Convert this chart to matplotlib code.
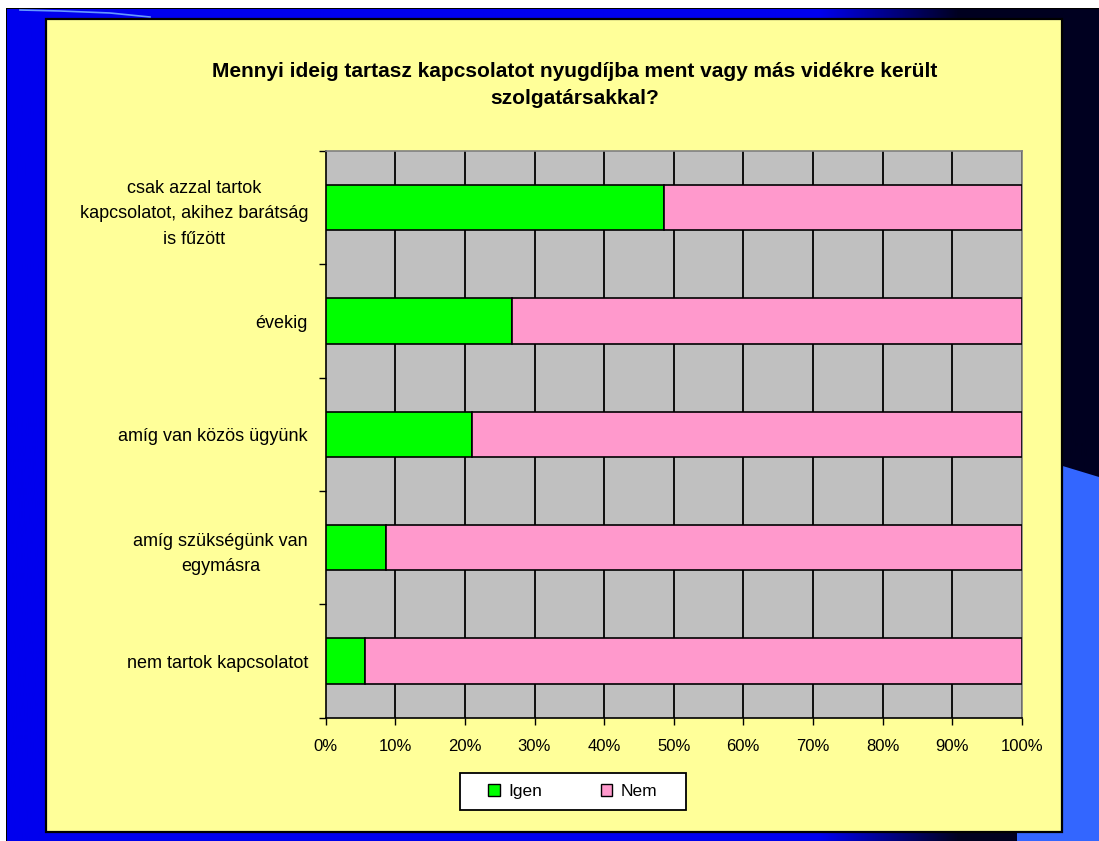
import matplotlib
matplotlib.use('Agg')
import matplotlib.pyplot as plt
from matplotlib.patches import Rectangle, Polygon
import numpy as np

# ---------------- data ----------------
categories = [
    "csak azzal tartok\nkapcsolatot, akihez barátság\nis fűzött",
    "évekig",
    "amíg van közös ügyünk",
    "amíg szükségünk van\negymásra",
    "nem tartok kapcsolatot",
]
igen = [48.6, 26.7, 21.0, 8.6, 5.7]
nem = [51.4, 73.3, 79.0, 91.4, 94.3]
series_names = ["Igen", "Nem"]
x_ticks = [0, 10, 20, 30, 40, 50, 60, 70, 80, 90, 100]
x_tick_labels = ["0%", "10%", "20%", "30%", "40%", "50%", "60%", "70%", "80%", "90%", "100%"]
title = "Mennyi ideig tartasz kapcsolatot nyugdíjba ment vagy más vidékre került\nszolgatársakkal?"

# ---------------- style ----------------
plt.rcParams['font.family'] = ['Liberation Sans', 'DejaVu Sans']
W, H = 1099, 841
GREEN = '#00FF00'
PINK = '#FF99CC'
GRAY = '#C0C0C0'
YELLOW = '#FFFF99'

fig = plt.figure(figsize=(W / 100, H / 100), dpi=100)
fig.patch.set_facecolor('white')

# background drawn in pixel coordinates
bg = fig.add_axes([0, 0, 1, 1], zorder=-10)
bg.set_xlim(0, W)
bg.set_ylim(H, 0)
bg.axis('off')

bg.add_patch(Rectangle((6, 8), W - 6, H - 8, facecolor='black', edgecolor='none'))
# horizontal gradient blue -> navy
xs = np.linspace(0, 1, 400)
xpix = 7 + xs * (W - 7)
t = np.clip((xpix - 820) / 140.0, 0, 1)
blue = np.array([0, 0, 238]) / 255.0
navy = np.array([0, 0, 32]) / 255.0
grad = (1 - t)[:, None] * blue + t[:, None] * navy
bg.imshow(grad[None, :, :], extent=(7, W, H, 9), aspect='auto', zorder=1)
# light blue shape at the lower right
bg.add_patch(Polygon([(1000, 447), (W, 477), (W, H), (1017, H), (1017, 460)],
                     closed=True, facecolor='#3366FF', edgecolor='none', zorder=2))
# small highlight swoosh at top left
bg.plot([20, 60, 110, 150], [10, 11, 13, 17], color='#6699FF', lw=1.2, zorder=2)
# yellow panel
bg.add_patch(Rectangle((46, 19), 1062 - 46, 832 - 19, facecolor=YELLOW,
                       edgecolor='black', lw=1.6, zorder=3))

# ---------------- main chart ----------------
left, right, top, bottom = 325.7, 1021.7, 151.0, 717.7
ax = fig.add_axes([left / W, 1 - bottom / H, (right - left) / W, (bottom - top) / H])
ax.set_facecolor(GRAY)

y = np.arange(len(categories))
ax.barh(y, igen, height=0.4, color=GREEN, edgecolor='black', lw=1.2, zorder=3, label=series_names[0])
ax.barh(y, nem, left=igen, height=0.4, color=PINK, edgecolor='black', lw=1.2, zorder=3, label=series_names[1])

ax.set_xlim(0, 100)
ax.set_ylim(len(categories) - 0.5, -0.5)

for v in x_ticks[1:]:
    ax.axvline(v, color='black', lw=1.3, zorder=1)

ax.set_xticks(x_ticks)
ax.set_xticklabels(x_tick_labels)
ax.tick_params(axis='x', direction='out', length=5, width=1, pad=10, labelsize=12)

ax.set_yticks(y)
ax.set_yticklabels(categories, multialignment='center', linespacing=1.65)
ax.tick_params(axis='y', which='major', length=0, pad=12.7, labelsize=13)
ax.set_yticks(np.arange(-0.5, len(categories), 1), minor=True)
ax.tick_params(axis='y', which='minor', direction='out', length=5, width=1)

for s in ['left', 'bottom']:
    ax.spines[s].set_color('black')
    ax.spines[s].set_linewidth(1.2)
for s in ['top', 'right']:
    ax.spines[s].set_color('#808080')
    ax.spines[s].set_linewidth(1.2)

# title
fig.text(575 / W, 1 - 85 / H, title, ha='center', va='center', fontweight='bold',
         fontsize=15, linespacing=1.55)

# legend box
bg.add_patch(Rectangle((460, 773), 226, 37, facecolor='white', edgecolor='black', lw=1.3, zorder=4))
handles = [Rectangle((0, 0), 1, 1, facecolor=GREEN, edgecolor='black', lw=1),
           Rectangle((0, 0), 1, 1, facecolor=PINK, edgecolor='black', lw=1)]
leg = fig.legend(handles, series_names, loc='center', bbox_to_anchor=(573 / W, 1 - 791.5 / H),
                 ncol=2, frameon=False, fontsize=12.5, handlelength=0.65, handleheight=0.65,
                 handletextpad=0.5, columnspacing=3.4)

fig.savefig('out.png', dpi=100)
